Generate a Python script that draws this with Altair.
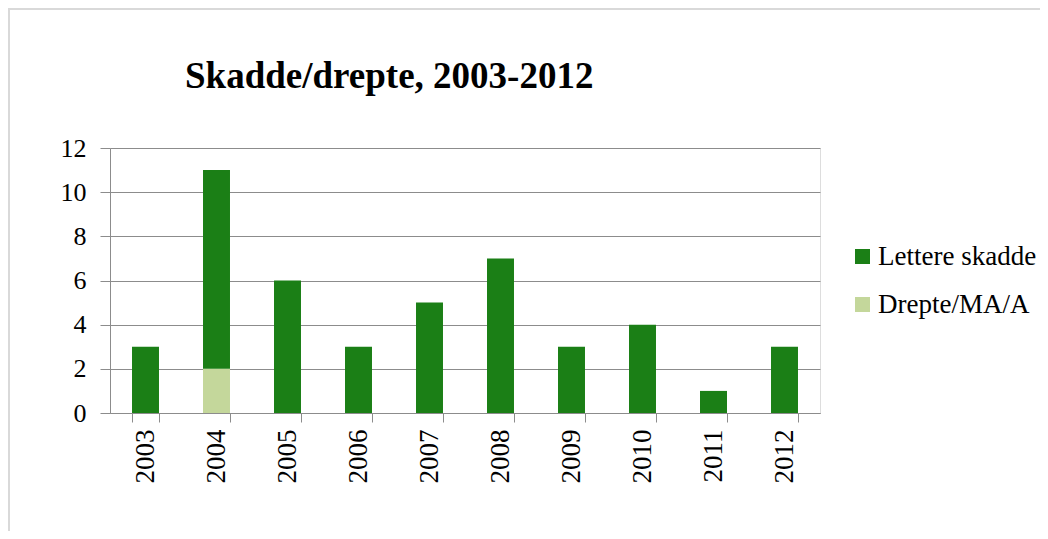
import altair as alt
import pandas as pd

years = ["2003", "2004", "2005", "2006", "2007", "2008", "2009", "2010", "2011", "2012"]
lettere = [3, 9, 6, 3, 5, 7, 3, 4, 1, 3]
drepte = [0, 2, 0, 0, 0, 0, 0, 0, 0, 0]
series = ["Lettere skadde", "Drepte/MA/A"]
colors = ["#1b7f16", "#c4d79b"]
y_ticks = [0, 2, 4, 6, 8, 10, 12]

rows = []
for y, l, d in zip(years, lettere, drepte):
    rows.append({"year": y, "serie": series[1], "value": d, "ord": 0})
    rows.append({"year": y, "serie": series[0], "value": l, "ord": 1})
df = pd.DataFrame(rows)

FONT = "Liberation Serif"
GRID = "#8c8c8c"

bars = alt.Chart(df).mark_bar().encode(
    x=alt.X("year:N", sort=years, title=None,
            scale=alt.Scale(paddingInner=0.62, paddingOuter=0.31),
            axis=alt.Axis(labelAngle=-90, labelFontSize=27, labelFont=FONT,
                          labelColor="#000000", tickBand="extent", tickSize=9,
                          tickColor=GRID, domainColor=GRID, labelPadding=7,
                          grid=False)),
    y=alt.Y("value:Q", stack="zero", title=None,
            scale=alt.Scale(domain=[0, 12], nice=False),
            axis=alt.Axis(values=y_ticks, labelFontSize=26, labelFont=FONT,
                          labelColor="#000000", tickSize=10, tickColor=GRID,
                          domainColor=GRID, gridColor=GRID, labelPadding=14,
                          grid=True)),
    color=alt.Color("serie:N",
                    scale=alt.Scale(domain=series, range=colors),
                    legend=alt.Legend(title=None, orient="none", legendX=739, legendY=95,
                                      symbolType="square", symbolSize=225,
                                      symbolStrokeWidth=0,
                                      labelFontSize=27, labelFont=FONT,
                                      labelColor="#000000", labelOffset=2,
                                      rowPadding=20)),
    order=alt.Order("ord:Q"),
)

border = alt.Chart(pd.DataFrame({"a": [0]})).mark_rect(
    fill=None, stroke="#d9d9d9", strokeWidth=2
).encode(
    x=alt.value(-101), x2=alt.value(1100), y=alt.value(-139), y2=alt.value(700)
)

chart = alt.layer(border, bars).properties(
    width=710, height=265,
    title=alt.TitleParams("Skadde/drepte, 2003-2012", font=FONT, fontSize=37,
                          fontWeight="bold", color="#000000", anchor="start",
                          frame="group", dx=75, dy=88, offset=0),
    autosize=alt.AutoSizeParams(type="none"),
    padding={"left": 102, "top": 140, "right": 220, "bottom": 118},
).configure_view(stroke=None).configure(background="white")

chart.save("out.html", embed_options={"renderer": "svg", "actions": False})
